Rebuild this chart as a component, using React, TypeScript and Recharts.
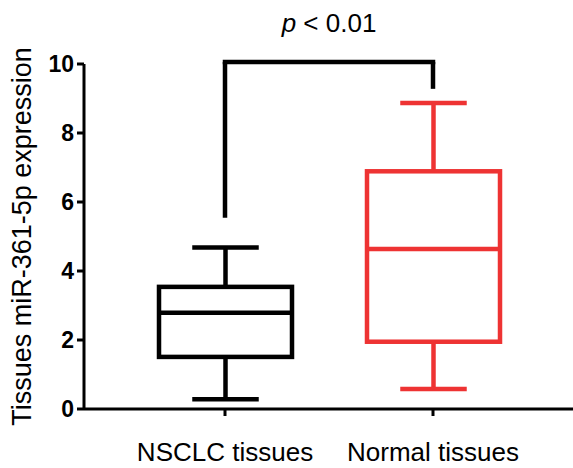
import { ComposedChart, Bar, XAxis, YAxis, ReferenceLine } from "recharts";

const groups = ["NSCLC tissues", "Normal tissues"];
const mins = [0.28, 0.58];
const q1s = [1.51, 1.95];
const medians = [2.79, 4.64];
const q3s = [3.54, 6.89];
const maxs = [4.68, 8.87];
const colors = ["#000000", "#EE3333"];
const yTicks = [0, 2, 4, 6, 8, 10];

// significance bracket
const bracketTop = 10.06;
const bracketLeftEnd = 5.54;
const bracketRightEnd = 9.28;
const pLabel = "< 0.01";

const data = groups.map((g, i) => ({
  name: g,
  range: [mins[i], maxs[i]],
  min: mins[i],
  q1: q1s[i],
  median: medians[i],
  q3: q3s[i],
  max: maxs[i],
  color: colors[i],
}));

const font = "Liberation Sans, Arial, sans-serif";

const BoxShape = (props: any) => {
  const { x, y, width, height, payload } = props;
  const top = Math.min(y, y + height);
  const h = Math.abs(height);
  const { min, max, q1, median, q3, color } = payload;
  const pix = (v: number) => top + (h * (max - v)) / (max - min);
  const cx = x + width / 2;
  const capW = width / 2;
  const sw = 4.5;
  return (
    <g stroke={color} strokeWidth={sw} fill="none">
      <line x1={cx - capW / 2} x2={cx + capW / 2} y1={pix(max)} y2={pix(max)} />
      <line x1={cx} x2={cx} y1={pix(max)} y2={pix(q3)} />
      <rect x={x} y={pix(q3)} width={width} height={pix(q1) - pix(q3)} />
      <line x1={x} x2={x + width} y1={pix(median)} y2={pix(median)} />
      <line x1={cx} x2={cx} y1={pix(q1)} y2={pix(min)} />
      <line x1={cx - capW / 2} x2={cx + capW / 2} y1={pix(min)} y2={pix(min)} />
    </g>
  );
};

const PText = (props: any) => {
  const vb = props.viewBox;
  return (
    <text
      x={vb.x + vb.width / 2}
      y={vb.y - 30}
      textAnchor="middle"
      fontFamily={font}
      fontSize={26}
      fill="#000"
    >
      <tspan fontStyle="italic">p</tspan> {pLabel}
    </text>
  );
};

export default function App() {
  return (
    <div style={{ position: "absolute", left: 0, top: 0, background: "#fff" }}>
      <ComposedChart
        width={573}
        height={468}
        data={data}
        margin={{ top: 64, right: 0, bottom: 0, left: 0 }}
      >
        <XAxis
          dataKey="name"
          height={59}
          padding={{ left: 37, right: 36 }}
          axisLine={{ stroke: "#000", strokeWidth: 3 }}
          tickLine={{ stroke: "#000", strokeWidth: 3 }}
          tickSize={7}
          tickMargin={27}
          tick={{ fill: "#000", fontSize: 26, fontFamily: font }}
          interval={0}
        />
        <YAxis
          width={84}
          domain={[0, 10]}
          ticks={yTicks}
          interval={0}
          axisLine={{ stroke: "#000", strokeWidth: 3 }}
          tickLine={{ stroke: "#000", strokeWidth: 3 }}
          tickSize={7}
          tickMargin={3}
          tick={{ fill: "#000", fontSize: 23, fontWeight: "bold", fontFamily: font }}
          label={{
            value: "Tissues miR-361-5p expression",
            angle: -90,
            position: "insideLeft",
            offset: 21,
            style: { textAnchor: "middle", fill: "#000", fontSize: 27, fontFamily: font },
          }}
        />
        <Bar
          dataKey="range"
          barSize={133}
          shape={<BoxShape />}
          isAnimationActive={false}
        />
        <ReferenceLine
          segment={[
            { x: groups[0], y: bracketTop },
            { x: groups[1], y: bracketTop },
          ]}
          stroke="#000"
          strokeWidth={4.5}
          strokeLinecap="square"
          ifOverflow="visible"
          label={<PText />}
        />
        <ReferenceLine
          segment={[
            { x: groups[0], y: bracketLeftEnd },
            { x: groups[0], y: bracketTop },
          ]}
          stroke="#000"
          strokeWidth={4.5}
          ifOverflow="visible"
        />
        <ReferenceLine
          segment={[
            { x: groups[1], y: bracketRightEnd },
            { x: groups[1], y: bracketTop },
          ]}
          stroke="#000"
          strokeWidth={4.5}
          ifOverflow="visible"
        />
      </ComposedChart>
    </div>
  );
}
